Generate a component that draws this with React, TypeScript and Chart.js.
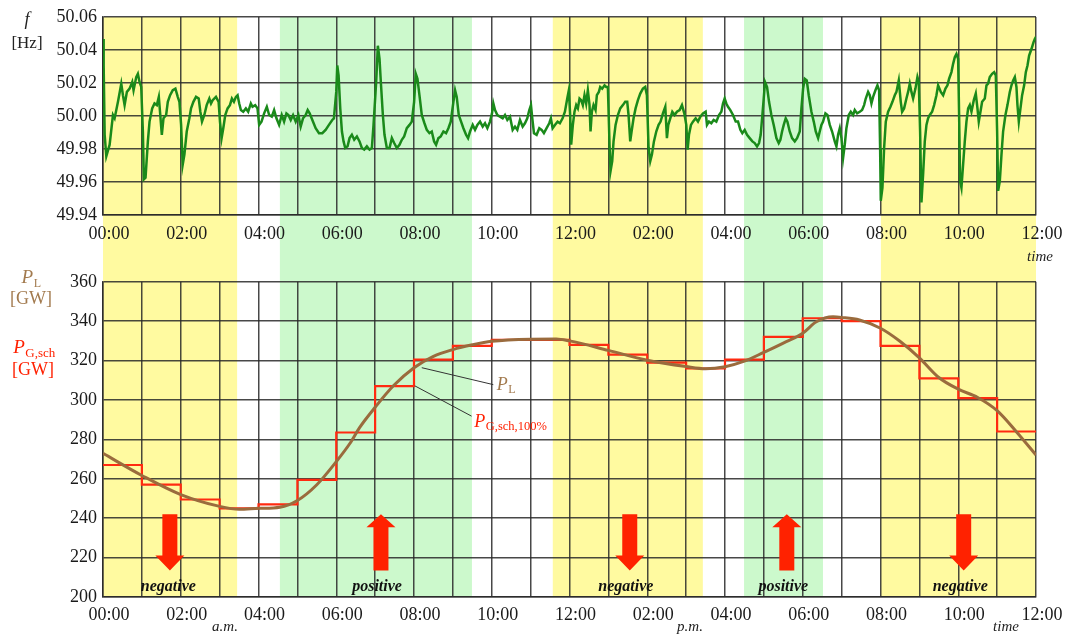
import React, { useEffect, useRef } from 'react';
import { Chart, registerables } from 'chart.js';

Chart.register(...registerables);

// ---------- data ----------
const timeLabels = ['00:00', '02:00', '04:00', '06:00', '08:00', '10:00', '12:00', '02:00', '04:00', '06:00', '08:00', '10:00', '12:00'];

// frequency [hour, Hz]
const freqNight: number[][] = [
  [0, 50.0466], [0.017, 50.0306], [0.043, 49.9886], [0.085, 49.9756], [0.171, 49.9826], [0.256, 50.0006], [0.299, 49.9986], [0.385, 50.0086], [0.47, 50.0196], [0.513, 50.0126],
  [0.556, 50.0066], [0.615, 50.0146], [0.684, 50.0166], [0.752, 50.0206], [0.786, 50.0156], [0.855, 50.0236], [0.897, 50.0256], [0.94, 50.0206], [0.983, 50.0176], [1.026, 49.9906],
  [1.051, 49.9616], [1.094, 49.9626], [1.154, 49.9846], [1.197, 49.9966], [1.265, 50.0046], [1.325, 50.0076], [1.385, 50.0066], [1.436, 50.0116], [1.47, 50.0016], [1.513, 49.9886],
  [1.556, 49.9986], [1.624, 50.0006], [1.667, 50.0086], [1.726, 50.0126], [1.795, 50.0156], [1.863, 50.0166], [1.923, 50.0116], [1.966, 50.0086], [2.009, 49.9946], [2.051, 49.9706],
  [2.094, 49.9766], [2.154, 49.9906], [2.222, 49.9986], [2.265, 50.0046], [2.325, 50.0086], [2.393, 50.0116], [2.462, 50.0106], [2.504, 50.0026], [2.547, 49.9966], [2.607, 50.0006],
  [2.667, 50.0066], [2.735, 50.0106], [2.778, 50.0076], [2.821, 50.0096], [2.906, 50.0116], [2.974, 50.0086], [3.009, 49.9966], [3.051, 49.9866], [3.094, 49.9926], [3.145, 50.0006],
  [3.205, 50.0046], [3.265, 50.0066], [3.316, 50.0106], [3.368, 50.0086], [3.419, 50.0116], [3.462, 50.0126], [3.504, 50.0076], [3.547, 50.0036], [3.607, 50.0026], [3.675, 50.0046],
  [3.735, 50.0026], [3.803, 50.0076], [3.846, 50.0056], [3.915, 50.0066], [3.974, 50.0046], [4.017, 49.9946], [4.077, 49.9966], [4.145, 50.0016], [4.214, 50.0056], [4.274, 50.0006],
  [4.342, 49.9996], [4.402, 50.0036], [4.462, 49.9986], [4.53, 49.9946], [4.598, 50.0006], [4.658, 49.9966], [4.718, 50.0016], [4.769, 50.0006], [4.829, 49.9976], [4.889, 50.0006],
  [4.957, 49.9966], [5.026, 50.0006], [5.085, 49.9936], [5.145, 49.9986], [5.214, 50.0006], [5.265, 50.0036], [5.316, 50.0016], [5.385, 49.9976], [5.47, 49.9926], [5.556, 49.9896],
  [5.641, 49.9896], [5.726, 49.9916], [5.812, 49.9946], [5.897, 49.9976], [5.94, 49.9986],
];
const freqMorning: number[][] = [
  [6.0, 50.0146], [6.026, 50.0306], [6.06, 50.0246], [6.103, 50.0046], [6.146, 49.9906], [6.188, 49.9846], [6.231, 49.9806], [6.291, 49.9816], [6.342, 49.9866], [6.402, 49.9886],
  [6.462, 49.9856], [6.531, 49.9876], [6.599, 49.9846], [6.659, 49.9806], [6.719, 49.9796], [6.788, 49.9816], [6.856, 49.9796], [6.916, 49.9806], [6.959, 49.9946], [7.027, 50.0206],
  [7.07, 50.0426], [7.113, 50.0346], [7.147, 50.0206], [7.199, 50.0006], [7.241, 49.9886], [7.301, 49.9806], [7.37, 49.9806], [7.43, 49.9866], [7.49, 49.9836], [7.558, 49.9806],
  [7.627, 49.9826], [7.687, 49.9856], [7.747, 49.9876], [7.815, 49.9926], [7.884, 49.9946], [7.943, 49.9966], [8.003, 50.0086], [8.046, 50.0256], [8.089, 50.0226], [8.14, 50.0126],
  [8.2, 50.0006], [8.269, 49.9956], [8.329, 49.9916], [8.397, 49.9896], [8.457, 49.9906], [8.517, 49.9846], [8.568, 49.9826], [8.628, 49.9866], [8.688, 49.9876], [8.757, 49.9906],
  [8.825, 49.9896], [8.885, 49.9926], [8.945, 49.9966], [9.014, 50.0086], [9.057, 50.0156], [9.099, 50.0116], [9.151, 50.0006], [9.211, 49.9966], [9.271, 49.9926], [9.339, 49.9886],
  [9.39, 49.9866], [9.442, 49.9906], [9.51, 49.9946], [9.57, 49.9916], [9.63, 49.9946], [9.699, 49.9966], [9.767, 49.9936], [9.827, 49.9956], [9.887, 49.9926], [9.955, 49.9966],
  [10.007, 50.0016], [10.041, 50.0076], [10.084, 50.0036], [10.144, 50.0006], [10.212, 49.9996], [10.281, 49.9986], [10.341, 50.0006], [10.401, 49.9976], [10.469, 49.9996], [10.538, 49.9916],
  [10.598, 49.9936], [10.658, 49.9916], [10.726, 49.9976], [10.795, 49.9936], [10.854, 49.9956], [10.914, 49.9986], [10.966, 50.0036], [11.009, 50.0066], [11.043, 49.9986], [11.086, 49.9896],
  [11.154, 49.9886], [11.223, 49.9926], [11.283, 49.9916], [11.342, 49.9896], [11.411, 49.9926], [11.479, 49.9956], [11.522, 49.9986], [11.565, 49.9926], [11.625, 49.9946], [11.693, 49.9966],
  [11.753, 49.9956], [11.822, 49.9986], [11.882, 50.0026], [11.942, 50.0106], [11.983, 50.0156],
];
const freqAfternoon: number[][] = [
  [12.017, 50.0006], [12.043, 49.9826], [12.086, 49.9946], [12.129, 50.0026], [12.172, 50.0066], [12.215, 50.0046], [12.258, 50.0106], [12.3, 50.0096], [12.343, 50.0066], [12.386, 50.0126],
  [12.429, 50.0076], [12.472, 50.0156], [12.515, 50.0066], [12.541, 49.9906], [12.575, 50.0026], [12.618, 50.0066], [12.67, 50.0036], [12.704, 50.0126], [12.755, 50.0146], [12.79, 50.0176],
  [12.841, 50.0166], [12.901, 50.0186], [12.944, 50.0176], [12.987, 50.0176], [13.03, 49.9826], [13.056, 49.9666], [13.099, 49.9726], [13.133, 49.9846], [13.185, 49.9946], [13.245, 50.0006],
  [13.305, 50.0046], [13.373, 50.0066], [13.433, 50.0086], [13.485, 50.0086], [13.519, 50.0006], [13.562, 49.9846], [13.597, 49.9906], [13.648, 49.9986], [13.7, 50.0046], [13.76, 50.0096],
  [13.82, 50.0136], [13.888, 50.0166], [13.948, 50.0176], [13.991, 50.0126], [14.034, 49.9806], [14.077, 49.9726], [14.12, 49.9766], [14.172, 49.9846], [14.232, 49.9906], [14.292, 49.9946],
  [14.343, 49.9966], [14.403, 50.0016], [14.464, 50.0056], [14.506, 49.9866], [14.541, 49.9946], [14.592, 49.9986], [14.644, 50.0026], [14.704, 50.0006], [14.764, 50.0026], [14.833, 50.0036],
  [14.893, 50.0066], [14.953, 50.0016], [15.004, 49.9946], [15.039, 49.9796], [15.073, 49.9886], [15.124, 49.9946], [15.176, 49.9966], [15.245, 49.9986], [15.305, 49.9966], [15.365, 49.9996],
  [15.433, 50.0016], [15.502, 50.0026], [15.536, 49.9946], [15.588, 49.9966], [15.648, 49.9956], [15.708, 49.9976], [15.777, 49.9966], [15.845, 50.0006], [15.906, 50.0026], [15.948, 50.0076],
  [15.991, 50.0106], [16.034, 50.0076], [16.077, 50.0056], [16.137, 50.0036], [16.206, 50.0006], [16.275, 49.9966], [16.335, 49.9966], [16.395, 49.9916], [16.446, 49.9896], [16.506, 49.9916],
  [16.567, 49.9886], [16.635, 49.9866], [16.704, 49.9846], [16.764, 49.9836], [16.824, 49.9816], [16.876, 49.9836], [16.918, 49.9886], [16.961, 50.0006], [16.996, 50.0106], [17.03, 50.0206],
  [17.082, 50.0176], [17.133, 50.0086], [17.193, 50.0006], [17.253, 49.9946], [17.322, 49.9866], [17.382, 49.9836], [17.425, 49.9856], [17.468, 49.9906], [17.511, 49.9946], [17.562, 49.9986],
  [17.605, 49.9966], [17.665, 49.9906], [17.725, 49.9866], [17.794, 49.9846], [17.854, 49.9866], [17.923, 49.9906],
];
const freqEvening: number[][] = [
  [17.966, 50.0046], [18.009, 50.0166], [18.051, 50.0226], [18.103, 50.0216], [18.154, 50.0126], [18.223, 50.0026], [18.283, 49.9966], [18.334, 49.9906], [18.395, 49.9866], [18.437, 49.9906],
  [18.48, 49.9946], [18.523, 49.9966], [18.583, 50.0016], [18.635, 50.0006], [18.695, 49.9946], [18.755, 49.9906], [18.823, 49.9846], [18.866, 49.9816], [18.909, 49.9886], [18.952, 49.9926],
  [18.995, 49.9866], [19.038, 49.9746], [19.081, 49.9826], [19.123, 49.9926], [19.184, 50.0006], [19.235, 50.0026], [19.295, 50.0006], [19.338, 50.0036], [19.398, 50.0016], [19.467, 50.0026],
  [19.527, 50.0036], [19.578, 50.0066], [19.621, 50.0106], [19.681, 50.0146], [19.724, 50.0126], [19.767, 50.0076], [19.81, 50.0116], [19.87, 50.0156], [19.921, 50.0186], [19.964, 50.0156],
  [19.99, 49.9806], [20.007, 49.9486], [20.05, 49.9566], [20.093, 49.9806], [20.136, 49.9966], [20.196, 50.0026], [20.256, 50.0056], [20.307, 50.0086], [20.367, 50.0126], [20.41, 50.0146],
  [20.47, 50.0216], [20.521, 50.0086], [20.556, 50.0026], [20.607, 50.0046], [20.667, 50.0106], [20.71, 50.0146], [20.753, 50.0196], [20.796, 50.0146], [20.839, 50.0106], [20.899, 50.0166],
  [20.95, 50.0236], [20.985, 50.0206], [21.019, 49.9906], [21.053, 49.9476], [21.096, 49.9646], [21.139, 49.9846], [21.182, 49.9946], [21.225, 49.9986], [21.268, 50.0006], [21.328, 50.0026],
  [21.379, 50.0066], [21.439, 50.0126], [21.482, 50.0186], [21.551, 50.0146], [21.611, 50.0126], [21.671, 50.0166], [21.722, 50.0186], [21.765, 50.0226], [21.825, 50.0266], [21.868, 50.0316],
  [21.911, 50.0356], [21.954, 50.0376], [21.997, 50.0346], [22.022, 50.0006], [22.048, 49.9606], [22.082, 49.9566], [22.125, 49.9706], [22.168, 49.9846], [22.211, 49.9966], [22.254, 50.0046],
  [22.297, 50.0066], [22.34, 50.0026], [22.4, 50.0096], [22.451, 50.0136], [22.494, 50.0046], [22.528, 49.9966], [22.571, 50.0026], [22.614, 50.0086], [22.683, 50.0106], [22.726, 50.0186],
  [22.768, 50.0196], [22.811, 50.0236], [22.871, 50.0256], [22.923, 50.0266], [22.966, 50.0246], [23.0, 49.9906], [23.026, 49.9546], [23.069, 49.9606], [23.112, 49.9766], [23.154, 49.9906],
  [23.214, 50.0006], [23.266, 50.0066], [23.326, 50.0146], [23.369, 50.0186], [23.412, 50.0216], [23.455, 50.0236], [23.497, 50.0176], [23.523, 50.0066], [23.558, 49.9966], [23.6, 50.0046],
  [23.643, 50.0126], [23.695, 50.0186], [23.738, 50.0266], [23.781, 50.0306], [23.823, 50.0366], [23.883, 50.0406], [23.935, 50.0446], [23.969, 50.0466], [24, 50.048],
];

// load P_L [GW]
const loadHours = [0, 1, 2, 3, 3.5, 4, 4.55, 5, 5.5, 6, 6.35, 6.6, 7, 7.47, 8, 8.5, 9, 9.5, 10, 11, 11.66, 12, 13, 14, 15, 15.5, 16, 16.5, 17, 17.5, 18, 18.35, 18.78, 19, 19.46, 20, 20.5, 21, 21.5, 22, 22.5, 23, 23.5, 24];
const loadValues = [272.9, 261.7, 252, 246, 244.5, 245, 245.6, 249, 257, 268.7, 277.9, 286, 296.3, 307.2, 316.4, 322.2, 325.6, 328, 329.8, 330.9, 331, 330, 325.2, 320.2, 317, 315.9, 316.9, 319.7, 324.2, 328.9, 333.9, 339.7, 342.2, 341.9, 340.6, 336.4, 329.8, 321.4, 311.4, 305.5, 301.3, 294.6, 283.8, 272.1];

// scheduled generation P_G,sch,100% [GW], one value per hour 00..23
const schedValues = [267, 257, 249.5, 245, 247, 259.5, 283.5, 307, 320.5, 327.5, 330.5, 330.5, 328, 323, 319, 316, 320.5, 332, 341.5, 340, 327.5, 311, 301, 284];

// balancing regions
const bandStart = [0, 4.55, 11.57, 16.49, 20.01];
const bandEnd = [3.45, 9.49, 15.43, 18.52, 24];
const bandKind = ['negative', 'positive', 'negative', 'positive', 'negative'];
const arrowHours = [1.72, 7.15, 13.55, 17.59, 22.14];
const regionLabelHours = [1.68, 7.05, 13.45, 17.5, 22.05];
const arrowTopGW = 242;
const arrowBottomGW = 213.5;
const regionLabelGW = 205;

// annotation leaders [hour, GW]
const plLeader = [[8.2, 316.4], [10.04, 307.8]];
const plLabelAt = [10.13, 308.3];
const pgLeader = [[8.02, 307.2], [9.48, 291.8]];
const pgLabelAt = [9.55, 289.5];

// ---------- styles ----------
const FONT = "'Liberation Serif', 'Times New Roman', Times, serif";
const YELLOW = '#FFFAA0';
const GREEN = '#CCF9CC';
const GRID = 'rgba(40,40,40,0.85)';
const BROWN = '#9A6B3D';
const BROWN_TXT = '#A27A4E';
const RED = '#FF2A10';
const RED_TXT = '#FF2000';
const ARROW_RED = '#FF2200';
const TICK = '#1a1a1a';

function drawBands(chart: any, y0: number, y1: number) {
  const ctx = chart.ctx;
  const xs = chart.scales.x;
  ctx.save();
  for (let i = 0; i < bandStart.length; i++) {
    const a = xs.getPixelForValue(bandStart[i]);
    const b = xs.getPixelForValue(bandEnd[i]);
    ctx.fillStyle = bandKind[i] === 'negative' ? YELLOW : GREEN;
    ctx.fillRect(a, y0, b - a, y1 - y0);
  }
  ctx.restore();
}

function drawSubText(ctx: CanvasRenderingContext2D, x: number, y: number, main: string, sub: string, color: string, mainSize: number, subSize: number, align: 'left' | 'center') {
  ctx.save();
  ctx.fillStyle = color;
  ctx.textBaseline = 'alphabetic';
  ctx.textAlign = 'left';
  ctx.font = `italic ${mainSize}px ${FONT}`;
  const w1 = ctx.measureText(main).width;
  ctx.font = `${subSize}px ${FONT}`;
  const w2 = ctx.measureText(sub).width;
  const sx = align === 'center' ? x - (w1 + w2) / 2 : x;
  ctx.font = `italic ${mainSize}px ${FONT}`;
  ctx.fillText(main, sx, y + mainSize * 0.33);
  ctx.font = `${subSize}px ${FONT}`;
  ctx.fillText(sub, sx + w1 + 0.5, y + mainSize * 0.33 + subSize * 0.3);
  ctx.restore();
}

function drawPlain(ctx: CanvasRenderingContext2D, text: string, x: number, y: number, font: string, color: string, align: CanvasTextAlign = 'center') {
  ctx.save();
  ctx.font = font;
  ctx.fillStyle = color;
  ctx.textAlign = align;
  ctx.textBaseline = 'middle';
  ctx.fillText(text, x, y);
  ctx.restore();
}

function drawArrow(ctx: CanvasRenderingContext2D, cx: number, yTop: number, yBot: number, up: boolean) {
  const sw = 7.5;
  const hw = 14.5;
  const hl = up ? 13 : 15;
  ctx.beginPath();
  if (up) {
    ctx.moveTo(cx, yTop);
    ctx.lineTo(cx + hw, yTop + hl);
    ctx.lineTo(cx + sw, yTop + hl);
    ctx.lineTo(cx + sw, yBot);
    ctx.lineTo(cx - sw, yBot);
    ctx.lineTo(cx - sw, yTop + hl);
    ctx.lineTo(cx - hw, yTop + hl);
  } else {
    ctx.moveTo(cx, yBot);
    ctx.lineTo(cx + hw, yBot - hl);
    ctx.lineTo(cx + sw, yBot - hl);
    ctx.lineTo(cx + sw, yTop);
    ctx.lineTo(cx - sw, yTop);
    ctx.lineTo(cx - sw, yBot - hl);
    ctx.lineTo(cx - hw, yBot - hl);
  }
  ctx.closePath();
  ctx.fill();
}

const xAxisBase = (heightPx: number, pad: number) => ({
  type: 'linear' as const,
  min: 0,
  max: 24,
  afterFit: (s: any) => { s.height = heightPx; },
  ticks: {
    stepSize: 1,
    autoSkip: false,
    maxRotation: 0,
    minRotation: 0,
    labelOffset: 6,
    padding: pad,
    color: TICK,
    font: { family: FONT, size: 18 },
    callback: (v: any) => (Number(v) % 2 === 0 ? timeLabels[Number(v) / 2] : ''),
  },
  grid: { color: GRID, lineWidth: 1.5, drawTicks: false },
  border: { color: GRID, width: 1.5 },
});

export default function App() {
  const topRef = useRef<HTMLCanvasElement>(null);
  const botRef = useRef<HTMLCanvasElement>(null);

  useEffect(() => {
    const freqData = [...freqNight, ...freqMorning, ...freqAfternoon, ...freqEvening].map((p) => ({ x: p[0], y: p[1] }));
    const loadData = loadHours.map((h, i) => ({ x: h, y: loadValues[i] }));
    const schedData = schedValues.map((v, i) => ({ x: i, y: v }));
    schedData.push({ x: schedValues.length, y: schedValues[schedValues.length - 1] });

    const topPlugin = {
      id: 'topDeco',
      beforeDraw(chart: any) {
        drawBands(chart, chart.chartArea.top, chart.height);
      },
      afterDraw(chart: any) {
        const ctx = chart.ctx;
        drawPlain(ctx, 'f', 27, 20, `italic 18px ${FONT}`, '#222');
        drawPlain(ctx, '[Hz]', 27, 44, `17px ${FONT}`, '#222');
        drawPlain(ctx, 'time', 1040, 257, `italic 15px ${FONT}`, '#222');
      },
    };

    const botPlugin = {
      id: 'botDeco',
      beforeDraw(chart: any) {
        drawBands(chart, 0, chart.chartArea.bottom);
      },
      afterDraw(chart: any) {
        const ctx = chart.ctx as CanvasRenderingContext2D;
        const xs = chart.scales.x;
        const ys = chart.scales.y;
        ctx.save();
        ctx.fillStyle = ARROW_RED;
        arrowHours.forEach((h, i) => {
          drawArrow(ctx, xs.getPixelForValue(h), ys.getPixelForValue(arrowTopGW), ys.getPixelForValue(arrowBottomGW), bandKind[i] === 'positive');
        });
        ctx.restore();
        regionLabelHours.forEach((h, i) => {
          drawPlain(ctx, bandKind[i], xs.getPixelForValue(h), ys.getPixelForValue(regionLabelGW), `bold italic 16px ${FONT}`, '#111');
        });
        ctx.save();
        ctx.strokeStyle = '#333';
        ctx.lineWidth = 1;
        [plLeader, pgLeader].forEach((ld) => {
          ctx.beginPath();
          ctx.moveTo(xs.getPixelForValue(ld[0][0]), ys.getPixelForValue(ld[0][1]));
          ctx.lineTo(xs.getPixelForValue(ld[1][0]), ys.getPixelForValue(ld[1][1]));
          ctx.stroke();
        });
        ctx.restore();
        drawSubText(ctx, xs.getPixelForValue(plLabelAt[0]), ys.getPixelForValue(plLabelAt[1]), 'P', 'L', BROWN_TXT, 18, 12, 'left');
        drawSubText(ctx, xs.getPixelForValue(pgLabelAt[0]), ys.getPixelForValue(pgLabelAt[1]), 'P', 'G,sch,100%', RED_TXT, 18, 12.5, 'left');
        drawSubText(ctx, 31, 12, 'P', 'L', BROWN_TXT, 19, 12, 'center');
        drawPlain(ctx, '[GW]', 31, 34, `18px ${FONT}`, BROWN_TXT);
        drawSubText(ctx, 34, 82, 'P', 'G,sch', RED_TXT, 19, 13, 'center');
        drawPlain(ctx, '[GW]', 33, 105, `18px ${FONT}`, RED_TXT);
        drawPlain(ctx, 'a.m.', 225, 362, `italic 15px ${FONT}`, '#222');
        drawPlain(ctx, 'p.m.', 690, 362, `italic 15px ${FONT}`, '#222');
        drawPlain(ctx, 'time', 1006, 362, `italic 15px ${FONT}`, '#222');
      },
    };

    const top = new Chart(topRef.current as HTMLCanvasElement, {
      type: 'line',
      data: {
        datasets: [
          {
            data: freqData,
            borderColor: '#1A8A1A',
            borderWidth: 2.5,
            pointRadius: 0,
            tension: 0,
          },
        ],
      },
      options: {
        responsive: false,
        animation: false,
        layout: { padding: { left: 0, right: 29, top: 17, bottom: 0 } },
        plugins: { legend: { display: false }, tooltip: { enabled: false } },
        scales: {
          x: xAxisBase(50, 8),
          y: {
            min: 49.94,
            max: 50.06,
            afterFit: (s: any) => { s.width = 103; },
            ticks: {
              stepSize: 0.02,
              padding: 6,
              color: TICK,
              font: { family: FONT, size: 18 },
              callback: (v: any) => Number(v).toFixed(2),
            },
            grid: { color: GRID, lineWidth: 1.5, drawTicks: false },
            border: { color: GRID, width: 1.5 },
          },
        },
      } as any,
      plugins: [topPlugin],
    });

    const bot = new Chart(botRef.current as HTMLCanvasElement, {
      type: 'line',
      data: {
        datasets: [
          {
            data: loadData,
            borderColor: BROWN,
            borderWidth: 3,
            pointRadius: 0,
            cubicInterpolationMode: 'monotone',
          },
          {
            data: schedData,
            borderColor: RED,
            borderWidth: 2.2,
            pointRadius: 0,
            stepped: true,
          },
        ],
      },
      options: {
        responsive: false,
        animation: false,
        layout: { padding: { left: 0, right: 29, top: 13, bottom: 0 } },
        plugins: { legend: { display: false }, tooltip: { enabled: false } },
        scales: {
          x: xAxisBase(37, 7),
          y: {
            min: 200,
            max: 360,
            afterFit: (s: any) => { s.width = 103; },
            ticks: {
              stepSize: 20,
              padding: 6,
              color: TICK,
              font: { family: FONT, size: 18 },
            },
            grid: { color: GRID, lineWidth: 1.5, drawTicks: false },
            border: { color: GRID, width: 1.5 },
          },
        },
      } as any,
      plugins: [botPlugin],
    });

    return () => {
      top.destroy();
      bot.destroy();
    };
  }, []);

  return (
    <div style={{ position: 'absolute', left: 0, top: 0, width: 1065, height: 634, background: '#fff', overflow: 'hidden' }}>
      <canvas ref={topRef} width={1065} height={265} style={{ position: 'absolute', left: 0, top: 0 }} />
      <canvas ref={botRef} width={1065} height={369} style={{ position: 'absolute', left: 0, top: 265 }} />
    </div>
  );
}
